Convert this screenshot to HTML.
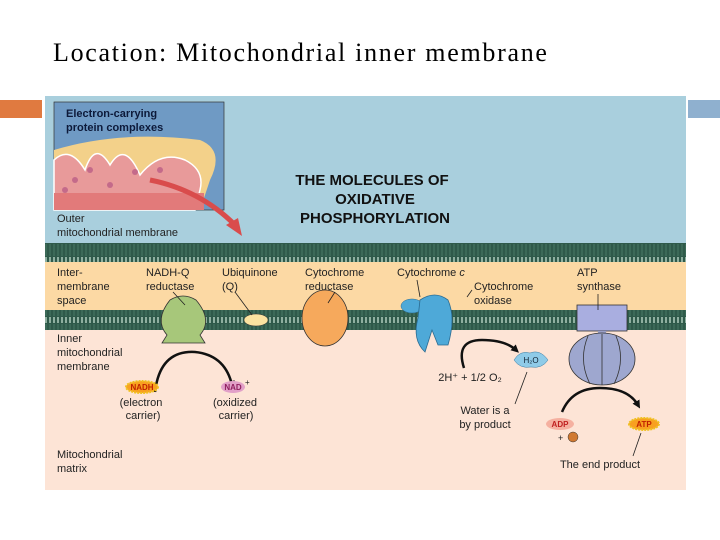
<!DOCTYPE html>
<html><head><meta charset="utf-8"><style>
body{margin:0;width:720px;height:540px;background:#fff;overflow:hidden;position:relative;font-family:"Liberation Sans",sans-serif}
.t{position:absolute;left:53px;top:38px;font-family:"Liberation Serif",serif;font-size:26px;letter-spacing:1.7px;color:#000;white-space:nowrap}
svg{position:absolute;left:0;top:0}
</style></head><body>
<div class="t">Location: Mitochondrial inner membrane</div>
<svg width="720" height="540" viewBox="0 0 720 540">
<defs>
<pattern id="mem" width="4" height="20" patternUnits="userSpaceOnUse">
<rect width="4" height="20" fill="#2f5a4a"/>
<rect x="1" y="0" width="2" height="3" fill="#8fb0a0"/>
<rect x="1" y="17" width="2" height="3" fill="#8fb0a0"/>
<rect x="1.5" y="4" width="1" height="12" fill="#4a7a66"/>
</pattern>
<marker id="ah" markerWidth="8" markerHeight="8" refX="4" refY="4" orient="auto" markerUnits="userSpaceOnUse" viewBox="0 0 8 8"><path d="M0,0 L8,4 L0,8 Z" fill="#111"/></marker>
</defs>
<rect x="0" y="100" width="42" height="18" fill="#e07a40"/>
<rect x="688" y="100" width="32" height="18" fill="#8fb0cf"/>
<rect x="45" y="96" width="641" height="148" fill="#a9cfdd"/>
<rect x="45" y="262" width="641" height="48" fill="#fcd9a4"/>
<rect x="45" y="330" width="641" height="160" fill="#fde4d6"/>
<rect x="45" y="243" width="641" height="19" fill="url(#mem)"/>
<rect x="45" y="310" width="641" height="20" fill="url(#mem)"/>
<!-- inset -->
<rect x="54" y="102" width="170" height="108" fill="#6f9ac4" stroke="#333" stroke-width="0.7"/>
<path d="M54,150 Q120,130 200,140 Q225,150 210,180 L200,210 L54,210 Z" fill="#f3d18a"/>
<path d="M54,160 Q70,145 85,170 Q95,140 110,165 Q125,140 140,175 Q160,150 185,160 Q205,170 200,190 L195,210 L54,210 Z" fill="#e89a9a" stroke="#fff" stroke-width="1.5"/>
<rect x="54" y="193" width="150" height="17" fill="#e27a7a"/>
<g fill="#c46a8a"><circle cx="75" cy="180" r="3"/><circle cx="90" cy="170" r="3"/><circle cx="110" cy="185" r="3"/><circle cx="135" cy="172" r="3"/><circle cx="160" cy="170" r="3"/><circle cx="65" cy="190" r="3"/></g>
<text x="66" y="117" font-size="11" font-weight="bold" fill="#0d1a3a">Electron-carrying</text>
<text x="66" y="131" font-size="11" font-weight="bold" fill="#0d1a3a">protein complexes</text>
<path d="M150,180 Q200,190 235,225" stroke="#d94c4c" stroke-width="5" fill="none"/>
<path d="M226,225 L242,236 L238,218 Z" fill="#d94c4c"/>
<text x="57" y="222" font-size="11" fill="#222">Outer</text>
<text x="57" y="236" font-size="11" fill="#222">mitochondrial membrane</text>
<text x="372" y="185" font-size="15" font-weight="bold" text-anchor="middle" fill="#111">THE MOLECULES OF</text>
<text x="375" y="204" font-size="15" font-weight="bold" text-anchor="middle" fill="#111">OXIDATIVE</text>
<text x="375" y="223" font-size="15" font-weight="bold" text-anchor="middle" fill="#111">PHOSPHORYLATION</text>
<g font-size="11" fill="#222">
<text x="57" y="276">Inter-</text><text x="57" y="290">membrane</text><text x="57" y="304">space</text>
<text x="146" y="276">NADH-Q</text><text x="146" y="290">reductase</text>
<text x="222" y="276">Ubiquinone</text><text x="222" y="290">(Q)</text>
<text x="305" y="276">Cytochrome</text><text x="305" y="290">reductase</text>
<text x="397" y="276">Cytochrome <tspan font-style="italic">c</tspan></text>
<text x="474" y="290">Cytochrome</text><text x="474" y="304">oxidase</text>
<text x="577" y="276">ATP</text><text x="577" y="290">synthase</text>
<text x="57" y="342">Inner</text><text x="57" y="356">mitochondrial</text><text x="57" y="370">membrane</text>
<text x="57" y="458">Mitochondrial</text><text x="57" y="472">matrix</text>
</g>
<!-- proteins -->
<path d="M170,300 Q183,292 196,300 Q213,320 200,335 L205,343 L162,343 L167,335 Q154,320 170,300 Z" fill="#a7c77a" stroke="#333" stroke-width="0.8"/>
<ellipse cx="256" cy="320" rx="12" ry="6" fill="#fbe3a0" stroke="#333" stroke-width="0.5"/>
<ellipse cx="325" cy="318" rx="23" ry="28" fill="#f6a95c" stroke="#333" stroke-width="0.8"/>
<ellipse cx="412" cy="306" rx="11" ry="7" fill="#4ea9d8" stroke="#2a6a90" stroke-width="0.5"/>
<path d="M420,300 Q435,290 448,300 Q456,318 448,345 L438,345 L432,330 L425,352 Q412,340 418,318 Z" fill="#4ea9d8" stroke="#2a6a90" stroke-width="0.8"/>
<rect x="577" y="305" width="50" height="26" fill="#a9aee0" stroke="#333" stroke-width="0.8"/>
<rect x="598" y="331" width="8" height="5" fill="#9aa0c8"/>
<ellipse cx="602" cy="359" rx="33" ry="26" fill="#9ea7cf" stroke="#333" stroke-width="0.8"/>
<path d="M588,336 Q578,360 590,384 M602,334 L602,385 M616,336 Q626,360 614,384" stroke="#333" stroke-width="0.8" fill="none"/>
<!-- arrows -->
<path d="M155,392 Q160,350 195,352 Q225,355 232,385" stroke="#111" stroke-width="2.5" fill="none" marker-end="url(#ah)"/>
<path d="M464,368 Q455,340 482,340 Q505,340 516,350" stroke="#111" stroke-width="2.5" fill="none" marker-end="url(#ah)"/>
<path d="M562,412 Q572,388 600,388 Q628,388 638,405" stroke="#111" stroke-width="2.5" fill="none" marker-end="url(#ah)"/>
<!-- small molecules -->
<ellipse cx="142" cy="387" rx="16" ry="6" fill="#f8a020" stroke="#f0c020" stroke-width="2" stroke-dasharray="2 1"/>
<text x="142" y="390" font-size="8" font-weight="bold" text-anchor="middle" fill="#c02000">NADH</text>
<ellipse cx="233" cy="387" rx="12" ry="6" fill="#e2a0c8"/>
<text x="233" y="390" font-size="8" font-weight="bold" text-anchor="middle" fill="#902060">NAD</text>
<text x="245" y="385" font-size="8" fill="#222">+</text>
<g font-size="11" fill="#222" text-anchor="middle">
<text x="141" y="406">(electron</text><text x="143" y="419">carrier)</text>
<text x="235" y="406">(oxidized</text><text x="236" y="419">carrier)</text>
<text x="470" y="381">2H⁺ + 1/2 O₂</text>
<text x="485" y="414">Water is a</text><text x="485" y="428">by product</text>
<text x="600" y="468">The end product</text>
</g>
<path d="M514,360 Q520,350 530,353 Q540,349 548,360 Q542,369 531,367 Q520,369 514,360 Z" fill="#8fcbe8" stroke="#3a7aa0" stroke-width="0.5"/>
<text x="531" y="363" font-size="8" text-anchor="middle" fill="#123">H₂O</text>
<path d="M527,372 L515,404" stroke="#222" stroke-width="0.8"/>
<ellipse cx="560" cy="424" rx="14" ry="6" fill="#f5b0a0"/>
<text x="560" y="427" font-size="8" font-weight="bold" text-anchor="middle" fill="#c02020">ADP</text>
<text x="558" y="441" font-size="9" fill="#222">+</text>
<circle cx="573" cy="437" r="5" fill="#d07830" stroke="#333" stroke-width="0.5"/>
<ellipse cx="644" cy="424" rx="15" ry="6" fill="#f8a020" stroke="#f0c020" stroke-width="2" stroke-dasharray="2 1"/>
<text x="644" y="427" font-size="8" font-weight="bold" text-anchor="middle" fill="#c02000">ATP</text>
<path d="M641,433 L633,456" stroke="#222" stroke-width="0.8"/>
<!-- leader lines -->
<g stroke="#222" stroke-width="0.8">
<path d="M173,292 L185,305"/><path d="M235,292 L252,315"/><path d="M335,292 L328,303"/>
<path d="M417,280 L420,297"/><path d="M472,290 L467,297"/><path d="M598,294 L598,310"/>
</g>
</svg>
</body></html>
